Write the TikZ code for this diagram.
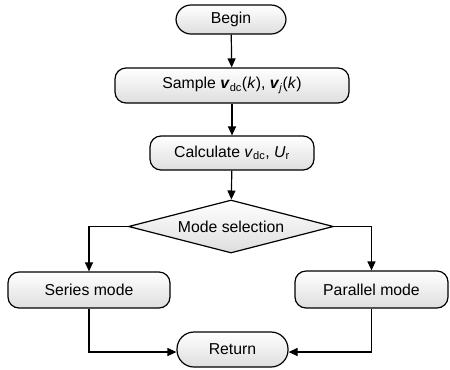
\documentclass[tikz,border=0pt]{standalone}
\usepackage{fontspec}
\setmainfont{Liberation Sans}
\usetikzlibrary{arrows.meta,shapes.geometric}
\begin{document}
\begin{tikzpicture}[x=1bp,y=-1bp,
  every node/.style={font=\fontsize{15.8bp}{18bp}\selectfont, inner sep=0pt},
  boxbase/.style={draw=black, line width=1.2bp, top color=white, bottom color=black!13},
  roundbox/.style={boxbase, rectangle, rounded corners=11bp},
  pill/.style={boxbase, rectangle, rounded corners=15bp},
  decide/.style={boxbase, diamond, shape aspect=3.87},
  conn/.style={line width=1.2bp, -{Triangle[length=9bp,width=8bp]}}
]
\useasboundingbox (0,0) rectangle (450,369);
\node[pill, minimum width=110bp, minimum height=29bp] (begin) at (231,19.5) {Begin};
\node[roundbox, minimum width=234bp, minimum height=35bp] (sample) at (232,85.5)
  {Sample \textbf{\textit{v}}\textsubscript{dc}(\textit{k}), \textbf{\textit{v}}\textsubscript{\textit{j}}(\textit{k})};
\node[roundbox, minimum width=164bp, minimum height=34bp] (calc) at (232,153)
  {Calculate \textit{v}\textsubscript{dc}, \textit{U}\textsubscript{r}};
\node[decide, minimum width=205bp, minimum height=53bp] (mode) at (231,226.5) {Mode selection};
\node[roundbox, minimum width=162bp, minimum height=36bp] (series) at (89,290) {Series mode};
\node[roundbox, minimum width=153bp, minimum height=37bp] (parallel) at (371.5,289.5) {Parallel mode};
\node[pill, rounded corners=17bp, minimum width=111bp, minimum height=35bp] (ret) at (232.5,349.5) {Return};
\draw[conn] (begin) -- (sample);
\draw[conn] (sample) -- (calc);
\draw[conn] (calc) -- (mode);
\draw[conn] (mode.west) -| (series.north);
\draw[conn] (mode.east) -| (parallel.north);
\draw[conn] (series.south) |- ([yshift=-2.5bp]ret.west);
\draw[conn] (parallel.south) |- ([yshift=-2.5bp]ret.east);
\end{tikzpicture}
\end{document}
